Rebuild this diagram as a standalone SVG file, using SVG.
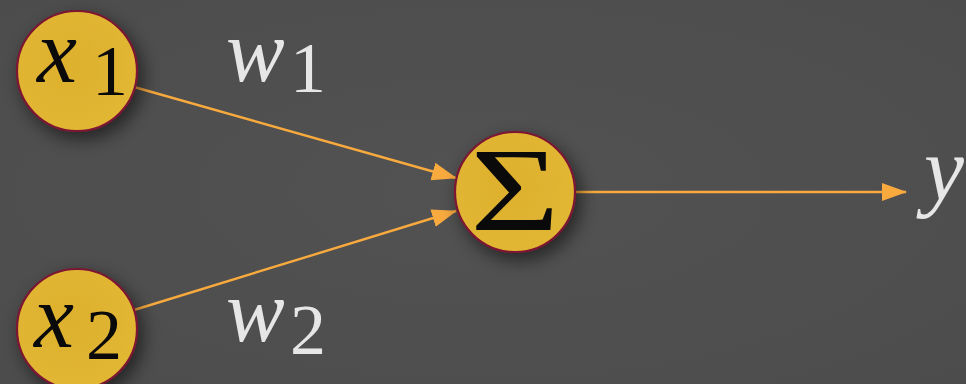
<svg xmlns="http://www.w3.org/2000/svg" width="966" height="384" viewBox="0 0 966 384">
<defs>
<radialGradient id="bg" cx="50%" cy="50%" r="75%">
<stop offset="0" stop-color="#525252"/>
<stop offset="1" stop-color="#4c4c4c"/>
</radialGradient>
<radialGradient id="nodefill" cx="45%" cy="45%" r="60%">
<stop offset="0" stop-color="#ddb02d"/>
<stop offset="1" stop-color="#e2b733"/>
</radialGradient>
<filter id="shadow" x="-50%" y="-50%" width="200%" height="200%">
<feDropShadow dx="5" dy="7" stdDeviation="9" flood-color="#000" flood-opacity="0.55"/>
</filter>
<marker id="arrow" markerWidth="26" markerHeight="20" refX="24" refY="10" orient="auto" markerUnits="userSpaceOnUse">
<path d="M0,1 L25,10 L0,19 Z" fill="#f8aa3e"/>
</marker>
<style>
.node circle{fill:url(#nodefill);stroke:#7b1530;stroke-width:2.2;filter:url(#shadow)}
.math{font-family:"Liberation Serif","DejaVu Serif",serif}
.it{font-style:italic}
.dark{fill:#0a0a0a}
.light{fill:#e6e6e6}
.conn line{stroke:#f8aa3e;stroke-width:2.4;fill:none;marker-end:url(#arrow)}
</style>
</defs>
<rect width="966" height="384" fill="url(#bg)"/>
<g class="conn" id="connectors">
<line x1="134" y1="87" x2="456" y2="178"/>
<line x1="134" y1="310" x2="456" y2="211"/>
<line x1="576" y1="192" x2="906" y2="192"/>
</g>
<g class="node" id="node-x1">
<circle cx="77" cy="71" r="60"/>
<text class="math dark" y="82"><tspan class="it" x="37" font-size="90">x</tspan><tspan x="92" y="95" font-size="72">1</tspan></text>
</g>
<g class="node" id="node-x2">
<circle cx="77" cy="329" r="60"/>
<text class="math dark" y="347"><tspan class="it" x="34" font-size="90">x</tspan><tspan x="86" y="359" font-size="72">2</tspan></text>
</g>
<g class="node" id="node-sum">
<circle cx="515" cy="192" r="60"/>
<text class="math dark" x="0" y="0" font-size="118" text-anchor="middle" transform="translate(515 230) scale(1.3 1)">Σ</text>
</g>
<g id="label-w1">
<text class="math light" y="81"><tspan class="it" x="226" font-size="88">w</tspan><tspan x="290" y="92" font-size="72">1</tspan></text>
</g>
<g id="label-w2">
<text class="math light" y="341"><tspan class="it" x="226" font-size="88">w</tspan><tspan x="290" y="354" font-size="72">2</tspan></text>
</g>
<g id="label-y">
<text class="math light it" x="924" y="200" font-size="90">y</text>
</g>
</svg>
